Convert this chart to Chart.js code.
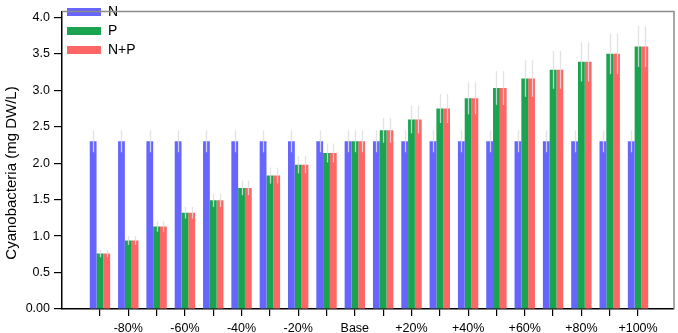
<!DOCTYPE html>
<html>
<head>
<meta charset="utf-8">
<script src="https://cdn.jsdelivr.net/npm/chart.js@4.4.1/dist/chart.umd.min.js"></script>
<style>
html,body{margin:0;padding:0;background:#fff;}
#wrap{width:678px;height:333px;position:relative;}
</style>
</head>
<body>
<div id="wrap"><canvas id="c" width="678" height="333"></canvas></div>
<script>
const categories = ['-90%','-80%','-70%','-60%','-50%','-40%','-30%','-20%','-10%','Base','+10%','+20%','+30%','+40%','+50%','+60%','+70%','+80%','+90%','+100%'];
const seriesN  = [2.30,2.30,2.30,2.30,2.30,2.30,2.30,2.30,2.30,2.30,2.30,2.30,2.30,2.30,2.30,2.30,2.30,2.30,2.30,2.30];
const seriesP  = [0.76,0.94,1.13,1.32,1.49,1.66,1.83,1.98,2.14,2.30,2.45,2.60,2.75,2.89,3.03,3.16,3.28,3.39,3.50,3.60];
const seriesNP = [0.76,0.94,1.13,1.32,1.49,1.66,1.83,1.98,2.14,2.30,2.45,2.60,2.75,2.89,3.03,3.16,3.28,3.39,3.50,3.60];
const errN  = [0.15,0.15,0.15,0.15,0.15,0.15,0.15,0.15,0.15,0.15,0.15,0.15,0.15,0.15,0.15,0.15,0.15,0.15,0.15,0.15];
const errP  = [0.05,0.06,0.07,0.08,0.09,0.10,0.11,0.12,0.13,0.15,0.17,0.19,0.20,0.22,0.23,0.25,0.26,0.27,0.28,0.28];
const errNP = [0.05,0.06,0.07,0.08,0.09,0.10,0.11,0.12,0.13,0.15,0.17,0.19,0.20,0.22,0.23,0.25,0.26,0.27,0.28,0.28];
const seriesNames = ['N','P','N+P'];
const yTicks = [0,0.5,1.0,1.5,2.0,2.5,3.0,3.5,4.0];
const yTitle = 'Cyanobacteria (mg DW/L)';

const FONT = "'Liberation Sans', Arial, Helvetica, sans-serif";
const toPts = arr => arr.map((v,i)=>({x:i,y:v}));

const errorBars = {
  id:'errorBars',
  afterDatasetsDraw(chart){
    const ctx = chart.ctx, ys = chart.scales.y;
    chart.data.datasets.forEach((ds,di)=>{
      const meta = chart.getDatasetMeta(di);
      meta.data.forEach((el,i)=>{
        const v = ds.data[i].y, e = ds.errors[i];
        const x = Math.round(el.x)+0.5;
        ctx.save();
        ctx.strokeStyle = 'rgba(222,222,222,0.85)';
        ctx.lineWidth = 1.3;
        ctx.beginPath();
        ctx.moveTo(x, ys.getPixelForValue(v+e));
        ctx.lineTo(x, ys.getPixelForValue(v-e));
        ctx.stroke();
        ctx.restore();
      });
    });
  }
};
const frame = {
  id:'frame',
  afterDraw(chart){
    const {ctx, chartArea:a} = chart;
    ctx.save();
    ctx.strokeStyle = '#8c8c8c';
    ctx.lineWidth = 1.5;
    ctx.beginPath();
    ctx.moveTo(a.left, a.top);
    ctx.lineTo(a.right, a.top);
    ctx.lineTo(a.right, a.bottom);
    ctx.stroke();
    // y-axis title
    ctx.fillStyle = '#000';
    ctx.font = "15px " + FONT;
    ctx.textAlign = 'center';
    ctx.textBaseline = 'middle';
    ctx.translate(12, 173);
    ctx.rotate(-Math.PI/2);
    ctx.fillText(yTitle, 0, 0);
    ctx.restore();
  }
};

new Chart(document.getElementById('c'), {
  type:'bar',
  data:{
    datasets:[
      {label:seriesNames[0], data:toPts(seriesN),  errors:errN,  backgroundColor:'#6666ff'},
      {label:seriesNames[1], data:toPts(seriesP),  errors:errP,  backgroundColor:'#1aa450'},
      {label:seriesNames[2], data:toPts(seriesNP), errors:errNP, backgroundColor:'#ff6666'}
    ]
  },
  options:{
    responsive:false,
    animation:false,
    devicePixelRatio:1,
    layout:{padding:{top:2,right:4,left:0,bottom:0}},
    datasets:{bar:{categoryPercentage:0.72, barPercentage:1.0, borderWidth:0}},
    plugins:{
      legend:{
        position:'chartArea',
        align:'start',
        labels:{boxWidth:34, boxHeight:8, padding:5, color:'#000', font:{family:FONT, size:14}}
      },
      tooltip:{enabled:false}
    },
    scales:{
      x:{
        type:'linear',
        min:-1.34, max:20.27,
        offset:false,
        afterFit(s){ s.height = 24; },
        afterBuildTicks(s){ s.ticks = categories.map((c,i)=>({value:i})); },
        grid:{offset:false, drawOnChartArea:false, drawTicks:true, tickLength:7, color:'#000', lineWidth:1.2},
        border:{color:'#000', width:1.5},
        ticks:{
          autoSkip:false, maxRotation:0, padding:5, color:'#000',
          font:{family:FONT, size:12.5},
          callback:(v)=> (v%2===1 ? categories[v] : '')
        }
      },
      y:{
        min:0, max:4.08,
        afterFit(s){ s.width = 62; },
        afterBuildTicks(s){ s.ticks = yTicks.map(v=>({value:v})); },
        grid:{drawOnChartArea:false, drawTicks:true, tickLength:8, color:'#000', lineWidth:1.2},
        border:{color:'#000', width:1.5},
        title:{display:false},
        ticks:{
          padding:4, color:'#000', font:{family:FONT, size:12.5},
          callback:(v)=> (v===0 ? '0.00' : v.toFixed(1))
        }
      }
    }
  },
  plugins:[errorBars, frame]
});
</script>
</body>
</html>
